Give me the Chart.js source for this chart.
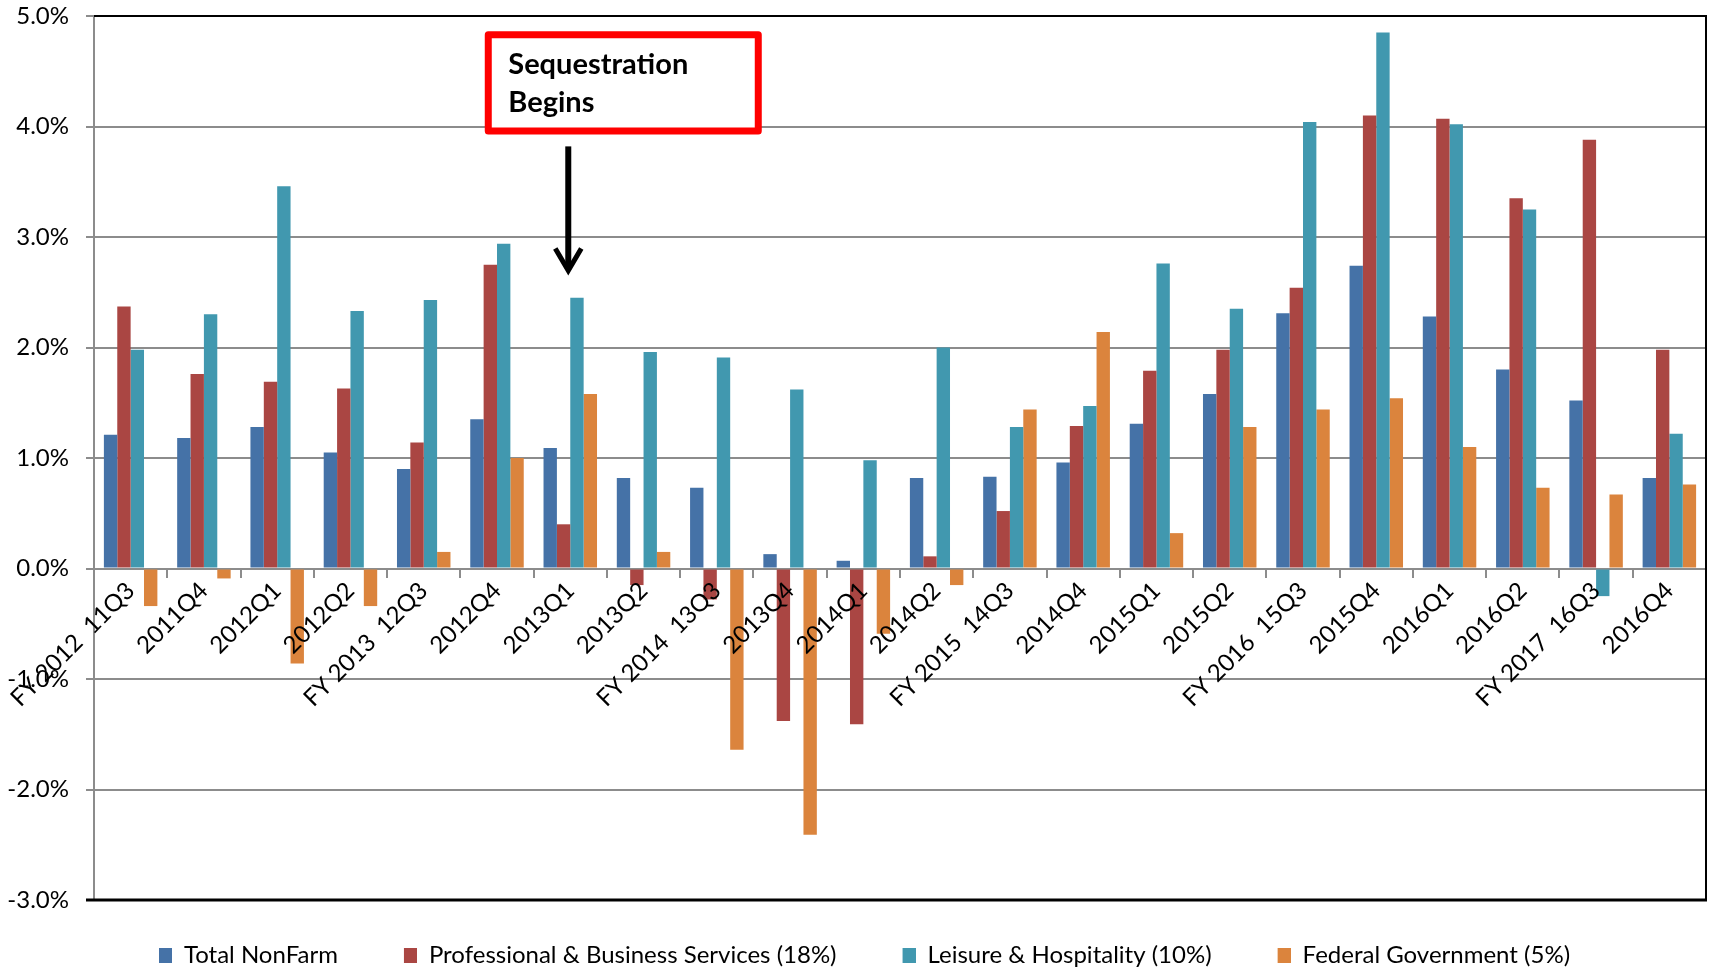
<!DOCTYPE html>
<html>
<head>
<meta charset="utf-8">
<script src="https://cdn.jsdelivr.net/npm/chart.js@4.4.1/dist/chart.umd.min.js"></script>
<style>
  html, body { margin: 0; padding: 0; background: #fff; }
  #wrap { width: 1709px; height: 967px; }
</style>
</head>
<body>
<div id="wrap"><canvas id="jobsChart" width="1709" height="967"></canvas></div>
<script>
var quarters = ['FY 2012  11Q3', '2011Q4', '2012Q1', '2012Q2', 'FY 2013  12Q3', '2012Q4', '2013Q1',
    '2013Q2', 'FY 2014  13Q3', '2013Q4', '2014Q1', '2014Q2', 'FY 2015  14Q3', '2014Q4', '2015Q1',
    '2015Q2', 'FY 2016  15Q3', '2015Q4', '2016Q1', '2016Q2', 'FY 2017  16Q3', '2016Q4'];

var totalNonFarm = [1.21, 1.18, 1.28, 1.05, 0.90, 1.35, 1.09, 0.82, 0.73, 0.13, 0.07,
    0.82, 0.83, 0.96, 1.31, 1.58, 2.31, 2.74, 2.28, 1.80, 1.52, 0.82];
var proBusiness = [2.37, 1.76, 1.69, 1.63, 1.14, 2.75, 0.40, -0.15, -0.28, -1.38, -1.41,
    0.11, 0.52, 1.29, 1.79, 1.98, 2.54, 4.10, 4.07, 3.35, 3.88, 1.98];
var leisureHosp = [1.98, 2.30, 3.46, 2.33, 2.43, 2.94, 2.45, 1.96, 1.91, 1.62, 0.98,
    2.00, 1.28, 1.47, 2.76, 2.35, 4.04, 4.85, 4.02, 3.25, -0.25, 1.22];
var federalGov = [-0.34, -0.09, -0.86, -0.34, 0.15, 1.00, 1.58, 0.15, -1.64, -2.41, -0.59,
    -0.15, 1.44, 2.14, 0.32, 1.28, 1.44, 1.54, 1.10, 0.73, 0.67, 0.76];

var seriesNames = ['Total NonFarm', 'Professional & Business Services (18%)',
    'Leisure & Hospitality (10%)', 'Federal Government (5%)'];
var seriesColors = ['#4572A7', '#AA4643', '#4198AF', '#DB843D'];

var yMin = -3, yMax = 5, yStep = 1;

var noteLines = ['Sequestration', 'Begins'];
var noteQuarter = '2013Q1';

var fontFamily = 'Lato, "Open Sans", sans-serif';

// legend swatch: small square with blank room on its left (wider gaps between items)
function swatch(color) {
    var c = document.createElement('canvas');
    c.width = 36;
    c.height = 15;
    var g = c.getContext('2d');
    g.fillStyle = color;
    g.fillRect(23, 0, 13, 15);
    return c;
}

var sequesterNote = {
    id: 'sequesterNote',
    afterDraw: function (chart) {
        var ctx = chart.ctx;
        var area = chart.chartArea;
        var x = chart.scales.x;
        var y = chart.scales.y;
        var ax = x.getPixelForValue(quarters.indexOf(noteQuarter)) - 2;

        ctx.save();
        // frame of the plot area
        ctx.strokeStyle = '#000';
        ctx.lineWidth = 2;
        ctx.beginPath();
        ctx.moveTo(area.left, area.top);
        ctx.lineTo(area.right, area.top);
        ctx.lineTo(area.right, area.bottom);
        ctx.stroke();
        ctx.lineWidth = 3;
        ctx.beginPath();
        ctx.moveTo(area.left - 8, area.bottom);
        ctx.lineTo(area.right + 1, area.bottom);
        ctx.stroke();

        // red note box
        var bx = ax - 80, bw = 270;
        var by = y.getPixelForValue(4.83), bh = y.getPixelForValue(3.96) - by;
        ctx.fillStyle = '#fff';
        ctx.fillRect(bx, by, bw, bh);
        ctx.strokeStyle = '#ff0000';
        ctx.lineWidth = 7;
        ctx.lineJoin = 'round';
        ctx.strokeRect(bx, by, bw, bh);

        ctx.fillStyle = '#000';
        ctx.font = 'bold 29px ' + fontFamily;
        ctx.textBaseline = 'middle';
        ctx.textAlign = 'left';
        ctx.fillText(noteLines[0], bx + 20, by + 30);
        ctx.fillText(noteLines[1], bx + 20, by + 68);

        // arrow
        var top = y.getPixelForValue(3.82), tip = y.getPixelForValue(2.67);
        ctx.strokeStyle = '#000';
        ctx.lineWidth = 6;
        ctx.lineJoin = 'miter';
        ctx.lineCap = 'butt';
        ctx.beginPath();
        ctx.moveTo(ax, top);
        ctx.lineTo(ax, tip - 4);
        ctx.stroke();
        ctx.lineWidth = 5;
        ctx.beginPath();
        ctx.moveTo(ax - 13, tip - 25);
        ctx.lineTo(ax, tip - 3);
        ctx.lineTo(ax + 13, tip - 25);
        ctx.stroke();
        ctx.restore();
    }
};

var datasets = [totalNonFarm, proBusiness, leisureHosp, federalGov].map(function (vals, i) {
    return {
        label: seriesNames[i],
        data: vals,
        backgroundColor: seriesColors[i],
        borderWidth: 0,
        pointStyle: swatch(seriesColors[i])
    };
});

var ctx = document.getElementById('jobsChart');
var myChart = new Chart(ctx, {
    type: 'bar',
    data: {
        labels: quarters,
        datasets: datasets
    },
    options: {
        responsive: false,
        animation: false,
        layout: { padding: { left: 0, right: 3, top: 16, bottom: -10 } },
        datasets: {
            bar: { categoryPercentage: 0.73, barPercentage: 1.0 }
        },
        scales: {
            x: {
                position: { y: 0 },
                afterFit: function (s) { s.paddingTop = 0; s.paddingBottom = 0; },
                grid: {
                    display: true,
                    drawOnChartArea: false,
                    drawTicks: true,
                    tickLength: 8,
                    offset: true,
                    color: '#8c8c8c',
                    lineWidth: 2
                },
                border: { display: true, color: '#8c8c8c', width: 2 },
                ticks: {
                    z: 1,
                    autoSkip: false,
                    minRotation: 45,
                    maxRotation: 45,
                    padding: 0,
                    color: '#000',
                    font: { family: fontFamily, size: 24 }
                }
            },
            y: {
                min: yMin,
                max: yMax,
                afterFit: function (s) {
                    s.width = 94;
                    s.paddingTop = 0;
                    s.paddingBottom = 0;
                },
                grid: {
                    color: '#8c8c8c',
                    lineWidth: 2,
                    tickLength: 8
                },
                border: { display: true, color: '#8c8c8c', width: 2 },
                ticks: {
                    stepSize: yStep,
                    padding: 17,
                    color: '#000',
                    font: { family: fontFamily, size: 24 },
                    callback: function (v) { return v.toFixed(1) + '%'; }
                }
            }
        },
        plugins: {
            legend: {
                position: 'bottom',
                labels: {
                    usePointStyle: true,
                    pointStyleWidth: 36,
                    boxHeight: 15,
                    padding: 43,
                    color: '#000',
                    font: { family: fontFamily, size: 24 }
                }
            },
            tooltip: { enabled: false }
        }
    },
    plugins: [sequesterNote]
});
</script>
</body>
</html>
